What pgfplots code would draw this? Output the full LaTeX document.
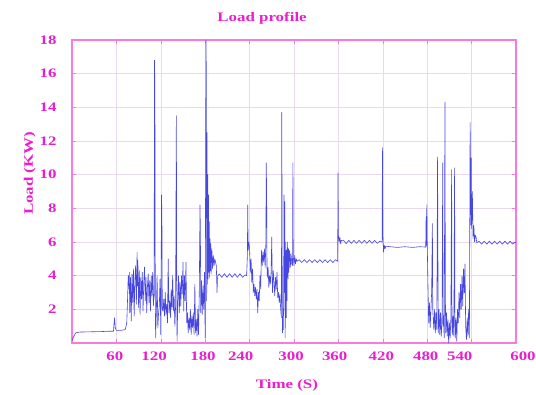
\documentclass[border=0pt]{standalone}
\usepackage{pgfplots}
\pgfplotsset{compat=1.18}
\usepackage{fontspec}
\setmainfont{Liberation Serif}[FakeStretch=1.3]
\definecolor{mag}{RGB}{235,30,205}
\definecolor{framec}{RGB}{250,120,225}
\definecolor{gridc}{RGB}{232,218,236}
\definecolor{lineb}{RGB}{70,70,225}
\begin{document}
\begin{tikzpicture}
\begin{axis}[
  name=ax,
  scale only axis, width=444pt, height=303pt,
  xmin=0, xmax=600, ymin=0, ymax=18,
  axis line style={framec, line width=1.2pt},
  xtick={0,60,...,600}, xticklabels={,,,,,,,,,,},
  ytick={2,4,...,18},
  grid=major, major grid style={gridc, line width=0.5pt},
  tick style={framec, line width=0.6pt},
  tick align=inside,
  extra x ticks={58,111,177,228,296,355,418,478,524,600},
  extra x tick labels={60,120,180,240,300,360,420,480,540,\hspace{14pt}600},
  extra x tick style={grid=none, major tick length=0pt},
  /pgf/number format/assume math mode=true,
  ticklabel style={font=\bfseries\fontsize{13}{13}\selectfont, text=mag},
  yticklabel style={xshift=-12pt},
  xticklabel style={yshift=-5pt},
  title={Load profile},
  title style={font=\bfseries\fontsize{13}{13}\selectfont, text=mag, at={(axis description cs:0.428,1.053)}, anchor=center},
  xlabel={Time (S)},
  ylabel={Load (KW)},
  label style={font=\bfseries\fontsize{13}{13}\selectfont, text=mag},
  xlabel style={at={(axis description cs:0.484,-0.139)}, anchor=center},
  ylabel style={at={(axis description cs:-0.095,0.56)}, anchor=center},
]
\addplot[lineb, line width=0.6pt, line join=round, no markers] table {
t y
0 0.15
2 0.35
5 0.6
10 0.65
20 0.66
30 0.67
40 0.68
50 0.7
56 0.7
57.5 1.5
58.5 0.9
60 0.75
66 0.75
72 0.8
74 1.2
75 2.5
76 4.0
77 3.2
77.5 4.2
78 1.8
79 3.9
80 1.3
81 4.1
82 2.4
83 4.4
84 1.6
85 3.7
86 4.6
87 2.3
88 5.4
88.5 3.4
89 4.9
90 2.1
91 4.3
92 1.7
93 3.9
94 2.6
95 4.2
96 1.9
97 3.6
98 4.5
99 2.5
100 3.9
101 1.8
102 3.4
103 4.1
104 2.4
105 3.7
106 1.9
107 4.0
108 2.8
109 4.2
110 2.2
111 3.0
111.5 16.8
112 15.2
112.5 3.0
113 0.3
114 1.9
115 4.0
116 0.9
117 1.8
118 2.2
119 3.8
120 0.5
121 8.8
121.5 7.5
122 2.0
123 1.9
124 2.6
125 1.6
126 3.0
127 1.7
128 2.3
129 1.2
130 5.0
131 1.8
132 2.5
133 1.5
134 3.2
135 2.0
136 4.0
137 1.9
138 2.8
139 1.0
140 2.2
141 13.5
141.5 4.0
142 0.1
143 2.6
144 4.0
145 1.8
146 3.6
147 2.2
148 4.0
149 2.9
150 4.8
151 1.9
152 4.0
153 2.5
154 4.8
155 1.2
156 1.8
157 0.6
158 1.5
159 0.8
160 2.0
161 0.5
162 1.6
163 0.9
164 1.8
165 0.5
166 3.5
167 0.6
168 1.4
169 0.4
170 2.0
171 0.5
172 3.0
173 8.2
173.5 6.5
174 1.8
175 3.7
176 1.7
177 3.4
178 2.0
179 4.2
180 0.3
181 18.0
181.5 16.2
182 2.5
182.5 12.5
183 3.5
183.5 10.0
184 3.8
184.5 8.8
185 4.2
185.5 7.2
186 3.9
186.5 6.2
187 4.3
187.5 5.9
188 4.1
189 5.6
190 4.4
191 5.2
192 4.6
193 5.0
194 4.8
195 4.6
196 3.0
196.5 3.8
197 4.0
199 4.1
202.5 3.9
206 4.12
209.5 3.9
213 4.12
216.5 3.9
220 4.12
223.5 3.9
227 4.12
230.5 3.9
234 4.05
236 4.0
237 5.2
237.5 8.2
238 5.5
239 6.0
240 5.6
241 4.2
242 5.0
243 3.6
244 4.4
245 3.0
246 3.5
247 2.8
248 3.3
249 2.6
250 3.2
251 1.8
252 3.0
253 2.5
254 4.0
255 3.2
256 5.5
257 4.6
258 5.4
259 4.8
260 5.6
261 4.5
262 6.0
262.5 10.7
263 9.0
263.5 4.5
264 3.9
265 4.5
266 3.3
267 4.0
268 3.5
269 4.2
270 6.3
270.5 3.8
271 3.0
272 4.3
273 3.6
274 2.8
275 3.9
276 3.2
277 4.2
278 2.7
279 3.0
280 2.4
281 2.9
282 2.0
283 1.5
283.5 13.7
284 5.0
284.5 0.6
285 1.3
285.5 0.8
286 2.5
286.5 8.8
287 3.0
287.5 8.4
288 0.3
289 6.0
289.5 1.5
290 5.5
290.5 2.5
291 6.0
292 3.8
292.5 5.6
293 4.2
294 5.5
295 4.5
296 5.3
297 4.7
298 4.6
298.5 10.7
299 5.2
300 4.6
301 5.2
302 4.7
303 5.0
304 4.85
307 4.95
310.5 4.78
314 4.95
317.5 4.78
321 4.95
324.5 4.78
328 4.95
331.5 4.78
335 4.95
338.5 4.78
342 4.95
345.5 4.78
349 4.95
352.5 4.78
356 4.95
359 4.85
359.5 10.1
360 6.4
361 6.0
362 6.3
363 5.9
364 6.1
367 6.1
370.5 5.9
374 6.1
377.5 5.92
381 6.1
384.5 5.92
388 6.1
391.5 5.92
395 6.1
398.5 5.92
402 6.1
405.5 5.92
409 6.1
412.5 5.92
416 6.05
419 6.0
419.5 11.6
420 6.5
421 5.4
422 5.8
423 5.6
424 5.75
430 5.72
440 5.68
450 5.72
460 5.68
470 5.72
478 5.7
478.5 7.5
479 5.8
479.5 8.2
480 6.0
481 3.5
482 1.2
483 2.4
484 0.9
485 2.0
486 3.0
487 7.1
487.5 2.0
488 1.6
489 0.8
490 2.0
491 0.6
492 1.8
493 0.8
494 11.05
494.5 5.0
495 0.6
496 2.0
497 0.5
498 1.8
499 0.4
500 1.2
501 10.7
501.5 1.0
502 1.6
503 0.3
504 14.3
504.5 3.0
505 0.6
506 1.8
507 0.4
508 1.4
509 0.0
510 1.2
511 0.3
512 1.5
513 10.3
513.5 1.0
514 0.5
515 1.6
516 0.4
517 10.4
517.5 1.2
518 0.3
519 1.5
520 0.1
521 2.0
522 1.2
523 3.0
524 1.5
525 3.5
526 2.0
527 4.0
528 2.2
529 4.4
530 3.0
531 4.7
532 1.0
533 0.2
534 1.5
535 0.4
536 2.0
537 0.3
538 13.1
538.5 10.4
539 7.0
539.5 11.0
540 6.8
541 9.0
542 6.2
543 7.0
544 6.0
545 6.4
546 6.3
547 5.95
550 6.05
553.5 5.87
557 6.05
560.5 5.87
564 6.05
567.5 5.87
571 6.05
574.5 5.87
578 6.05
581.5 5.87
585 6.05
588.5 5.87
592 6.05
595.5 5.87
599 6.0
600 5.95
};
\end{axis}
\pgfresetboundingbox
\path ([shift={(-72pt,-51pt)}]ax.south west) rectangle ([shift={(20pt,40pt)}]ax.north east);
\end{tikzpicture}
\end{document}
